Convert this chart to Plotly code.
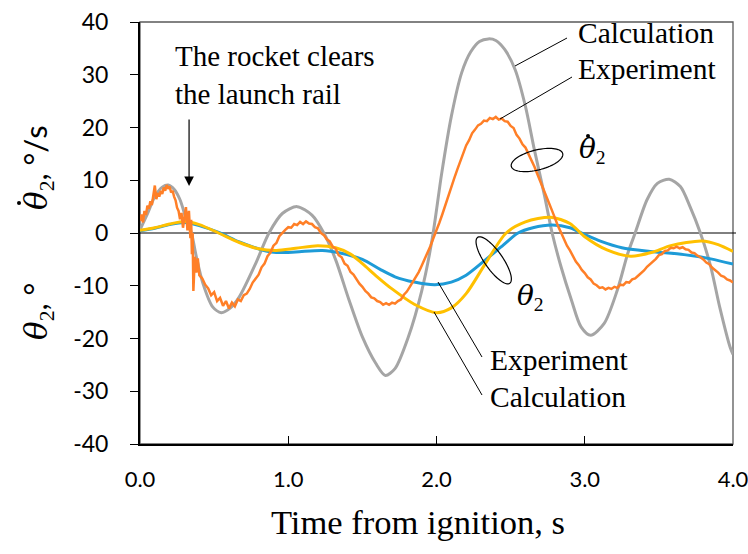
import numpy as np
import plotly.graph_objects as go

# ---------------- data ----------------
X_TICKS = [0, 1, 2, 3, 4]
X_TICK_LABELS = ["0.0", "1.0", "2.0", "3.0", "4.0"]
Y_TICKS = [-40, -30, -20, -10, 0, 10, 20, 30, 40]
Y_TICK_LABELS = ["-40", "-30", "-20", "-10", "0", "10", "20", "30", "40"]

# Calculation, angular rate (deg/s)
T_CALC_RATE = [0.00, 0.05, 0.10, 0.15, 0.19, 0.23, 0.27, 0.313, 0.347, 0.38, 0.425, 0.49,
               0.548, 0.61, 0.67, 0.78, 0.87, 0.96, 1.06, 1.16, 1.24, 1.32, 1.41, 1.50,
               1.59, 1.655, 1.72, 1.81, 1.90, 1.97, 2.035, 2.10, 2.17, 2.23, 2.29, 2.35,
               2.40, 2.46, 2.53, 2.60, 2.66, 2.73, 2.78, 2.84, 2.91, 2.975, 3.04, 3.13,
               3.22, 3.29, 3.34, 3.42, 3.49, 3.57, 3.645, 3.71, 3.78, 3.85, 3.91, 3.98, 4.00]
CALC_RATE = [0.6, 3.6, 6.9, 8.7, 9.1, 8.3, 6.3, 2.5, 0.0, -4.5, -9.6, -14.0,
             -15.1, -14.2, -12.1, -5.8, 0.0, 3.7, 5.0, 3.4, 0.0, -5.1, -12.7, -19.7,
             -24.7, -27.0, -25.7, -19.7, -11.0, -1.3, 11.3, 22.1, 30.4, 34.3, 36.3, 36.8,
             36.5, 34.8, 31.0, 24.0, 15.8, 6.9, 0.0, -6.4, -12.7, -17.8, -19.4, -17.2,
             -10.8, -3.9, 0.0, 6.3, 9.4, 10.2, 8.8, 5.0, 0.0, -6.4, -14.0, -21.6, -23.0]

# Experiment, angular rate (deg/s)
T_EXP_RATE = [0.00, 0.01, 0.02, 0.03, 0.04, 0.05, 0.06, 0.07, 0.08, 0.09, 0.10, 0.11, 0.12,
              0.13, 0.14, 0.15, 0.16, 0.17, 0.18, 0.19, 0.20, 0.21, 0.22, 0.23, 0.24, 0.25,
              0.26, 0.27, 0.28, 0.29, 0.30, 0.31, 0.32, 0.33, 0.34, 0.345, 0.35, 0.355,
              0.36, 0.365, 0.37, 0.38, 0.39, 0.40,
              0.42, 0.44, 0.46, 0.48, 0.50, 0.52, 0.54, 0.56, 0.58, 0.60, 0.62, 0.64, 0.66,
              0.68, 0.70, 0.72, 0.74, 0.76, 0.78, 0.80, 0.82, 0.84, 0.86, 0.88, 0.90, 0.92,
              0.94, 0.96, 0.98, 1.00, 1.02, 1.04, 1.06, 1.08, 1.10, 1.12, 1.14, 1.16, 1.18,
              1.20, 1.22, 1.24, 1.26, 1.28, 1.30, 1.32, 1.34, 1.36, 1.38, 1.40, 1.42, 1.44,
              1.46, 1.48, 1.50, 1.52, 1.54, 1.56, 1.58, 1.60, 1.62, 1.64, 1.66, 1.68, 1.70,
              1.72, 1.74, 1.76, 1.78, 1.80, 1.82, 1.84, 1.86, 1.88, 1.90, 1.92, 1.94, 1.96,
              1.98, 2.00, 2.02, 2.04, 2.06, 2.08, 2.10, 2.12, 2.14, 2.16, 2.18, 2.20, 2.22,
              2.24, 2.26, 2.28, 2.30, 2.32, 2.34, 2.36, 2.38, 2.40, 2.42, 2.44, 2.46, 2.48,
              2.50, 2.52, 2.54, 2.56, 2.58, 2.60, 2.62, 2.64, 2.66, 2.68, 2.70, 2.72, 2.74,
              2.76, 2.78, 2.80, 2.82, 2.84, 2.86, 2.88, 2.90, 2.92, 2.94, 2.96, 2.98, 3.00,
              3.02, 3.04, 3.06, 3.08, 3.10, 3.12, 3.14, 3.16, 3.18, 3.20, 3.22, 3.24, 3.26,
              3.28, 3.30, 3.32, 3.34, 3.36, 3.38, 3.40, 3.42, 3.44, 3.46, 3.48, 3.50, 3.52,
              3.54, 3.56, 3.58, 3.60, 3.62, 3.64, 3.66, 3.68, 3.70, 3.72, 3.74, 3.76, 3.78,
              3.80, 3.82, 3.84, 3.86, 3.88, 3.90, 3.92, 3.94, 3.96, 3.98, 4.00]
EXP_RATE = [2.3, 3.5, 2.0, 4.2, 3.4, 5.2, 4.6, 6.0, 5.3, 7.0, 9.0, 6.4, 7.6,
            6.9, 8.0, 7.4, 8.6, 8.0, 9.1, 8.4, 8.8, 7.7, 8.0, 6.9, 6.2, 4.8,
            4.2, 2.6, 3.8, 1.0, 3.0, 4.9, 0.5, 4.2, -1.0, 2.5, -4.0, 0.0,
            -11.0, -7.0, -4.5, -7.5, -4.8, -8.0,
            -8.6, -9.8, -10.5, -11.8, -11.2, -12.9, -12.3, -13.8, -12.9, -14.3, -13.2, -13.9, -12.6,
            -12.9, -11.8, -11.5, -10.6, -9.4, -8.6, -7.9, -6.5, -5.8, -4.4, -3.7, -2.4, -1.9,
            -0.6, 0.1, 0.6, 1.1, 1.0, 1.7, 1.5, 2.1, 1.7, 2.2, 1.8, 1.7, 1.1,
            0.9, 0.0, -0.4, -1.2, -1.6, -2.6, -3.0, -4.2, -4.6, -5.8, -6.2, -7.4, -7.9,
            -8.8, -9.6, -10.2, -11.0, -11.5, -12.2, -12.4, -12.9, -13.1, -13.6, -13.3, -13.6, -13.2,
            -13.4, -12.9, -12.6, -11.7, -11.1, -10.2, -9.3, -8.5, -7.4, -6.2, -5.0, -3.6, -2.4,
            -0.9, 0.4, 2.0, 3.6, 5.4, 7.0, 8.9, 10.4, 12.0, 13.6, 15.0, 16.6, 17.6,
            18.9, 19.6, 20.4, 20.7, 21.3, 21.2, 21.8, 21.6, 22.0, 21.5, 21.7, 21.2, 21.1,
            20.3, 19.9, 18.6, 17.9, 16.8, 16.2, 15.0, 13.9, 12.6, 11.2, 9.7, 8.6, 7.0,
            5.6, 4.2, 2.6, 1.3, 0.1, -1.2, -2.4, -3.3, -4.3, -5.4, -6.1, -7.0, -7.6,
            -8.4, -8.8, -9.6, -9.9, -10.4, -10.3, -10.7, -10.4, -10.6, -10.2, -10.4, -9.8, -9.9,
            -9.3, -9.4, -8.8, -8.6, -8.1, -7.6, -7.1, -6.4, -5.9, -5.3, -4.9, -4.2, -4.0,
            -3.4, -3.3, -2.8, -2.9, -2.6, -2.9, -2.7, -3.1, -3.2, -3.7, -3.8, -4.3, -4.6,
            -5.0, -5.6, -5.9, -6.6, -7.0, -7.5, -8.1, -8.3, -8.8, -9.0, -9.4]

# Calculation, angle (deg)
T_CALC_ANGLE = [0.00, 0.10, 0.20, 0.30, 0.40, 0.53, 0.67, 0.80, 0.92, 1.05, 1.20, 1.32,
                1.42, 1.50, 1.60, 1.70, 1.85, 2.00, 2.10, 2.20, 2.33, 2.47, 2.60, 2.77,
                2.90, 3.00, 3.15, 3.31, 3.45, 3.58, 3.79, 3.90, 4.00]
CALC_ANGLE = [0.5, 1.0, 1.7, 2.2, 1.6, 0.0, -1.8, -3.0, -3.3, -2.9, -2.4, -2.8,
              -4.0, -5.8, -8.3, -10.6, -13.5, -15.1, -14.2, -11.5, -5.8, 0.0, 2.1, 3.0,
              1.8, -0.7, -3.2, -4.4, -3.7, -2.4, -1.5, -2.2, -3.5]

# Experiment, angle (deg)
T_EXP_ANGLE = [0.00, 0.10, 0.20, 0.30, 0.40, 0.54, 0.67, 0.85, 0.92, 1.05, 1.23, 1.35,
               1.50, 1.62, 1.72, 1.85, 1.99, 2.10, 2.20, 2.33, 2.45, 2.55, 2.65, 2.78,
               2.90, 3.00, 3.11, 3.25, 3.44, 3.67, 3.85, 4.00]
EXP_ANGLE = [0.4, 0.9, 1.6, 2.0, 1.4, 0.0, -1.7, -3.4, -3.7, -3.6, -3.3, -3.8,
             -5.0, -6.9, -8.3, -9.3, -9.8, -9.3, -8.0, -5.1, -2.3, 0.0, 1.0, 1.5,
             1.0, -0.3, -1.6, -2.8, -3.5, -4.1, -4.9, -5.9]

# ---------------- styling helpers ----------------
W, H = 748, 554
L, R, T, B = 140, 733, 22, 444
SERIF = "Liberation Serif"
MATH = "DejaVu Serif"
SANS = "Lato"


def px(x):
    return (x - L) / (R - L)


def py(y):
    return (B - y) / (B - T)


def ellipse_path(cx, cy, a, b, ang_deg, n=72):
    th = np.linspace(0, 2 * np.pi, n)
    ang = np.radians(ang_deg)
    xs = cx + a * np.cos(th) * np.cos(ang) - b * np.sin(th) * np.sin(ang)
    ys = cy + a * np.cos(th) * np.sin(ang) + b * np.sin(th) * np.cos(ang)
    pts = [f"{px(x):.5f},{py(y):.5f}" for x, y in zip(xs, ys)]
    return "M " + " L ".join(pts) + " Z"


def dot(cx, cy, r=2.0):
    return dict(type="circle", xref="paper", yref="paper",
                x0=px(cx - r), x1=px(cx + r), y0=py(cy + r), y1=py(cy - r),
                fillcolor="black", line=dict(width=0))


fig = go.Figure()
fig.add_trace(go.Scatter(x=T_CALC_RATE, y=CALC_RATE, mode="lines",
                         line=dict(color="#A5A5A5", width=3, shape="spline", smoothing=0.8),
                         hoverinfo="skip", showlegend=False))
fig.add_trace(go.Scatter(x=T_EXP_ANGLE, y=EXP_ANGLE, mode="lines",
                         line=dict(color="#1E9BD7", width=3, shape="spline", smoothing=0.8),
                         hoverinfo="skip", showlegend=False))
fig.add_trace(go.Scatter(x=T_CALC_ANGLE, y=CALC_ANGLE, mode="lines",
                         line=dict(color="#FFC000", width=3, shape="spline", smoothing=0.8),
                         hoverinfo="skip", showlegend=False))
fig.add_trace(go.Scatter(x=T_EXP_RATE, y=EXP_RATE, mode="lines",
                         line=dict(color="#FF7F27", width=2.5),
                         hoverinfo="skip", showlegend=False))

shapes = []
shapes.append(dict(type="rect", xref="paper", yref="paper", x0=0, y0=0, x1=1, y1=1,
                   line=dict(color="#595959", width=1.3), layer="below"))
shapes.append(dict(type="line", xref="paper", yref="y", x0=0, x1=px(736), y0=0, y1=0,
                   line=dict(color="black", width=1), layer="below"))
for (x0, y0, x1, y1) in [(515, 66, 567, 38), (500, 119, 572, 77),
                         (438, 282, 482, 357), (434, 312, 482, 395)]:
    shapes.append(dict(type="line", xref="paper", yref="paper",
                       x0=px(x0), y0=py(y0), x1=px(x1), y1=py(y1),
                       line=dict(color="black", width=1)))
shapes.append(dict(type="path", xref="paper", yref="paper",
                   path=ellipse_path(537, 160, 26.5, 10, -14), line=dict(color="black", width=1.2)))
shapes.append(dict(type="path", xref="paper", yref="paper",
                   path=ellipse_path(493.7, 260.3, 28, 9, 55), line=dict(color="black", width=1.2)))
# dots over theta (time derivative)
shapes.append(dot(588, 136))
shapes.append(dot(19, 203))

THETA = f"<span style=\"font-family:{MATH}\"><i>\u03b8</i></span>"

ann = []
ann.append(dict(text="The rocket clears<br>the launch rail", xref="paper", yref="paper",
                x=px(173), y=py(75), xanchor="left", yanchor="middle", align="left",
                showarrow=False, font=dict(family=SERIF, size=29, color="black")))
ann.append(dict(text="", x=0.331, y=8.9, xref="x", yref="y", ax=0.331, ay=21.8,
                axref="x", ayref="y", showarrow=True, arrowhead=2, arrowsize=1.6,
                arrowwidth=1.2, arrowcolor="black"))
for txt, xx, yy in [("Calculation", 576, 33), ("Experiment", 576, 69),
                    ("Experiment", 488, 360), ("Calculation", 488, 397)]:
    ann.append(dict(text=txt, xref="paper", yref="paper", x=px(xx), y=py(yy),
                    xanchor="left", yanchor="middle", showarrow=False,
                    font=dict(family=SERIF, size=29.5, color="black")))
ann.append(dict(text=THETA + "<sub>2</sub>", xref="paper", yref="paper",
                x=px(577), y=py(150), xanchor="left", yanchor="middle", showarrow=False,
                font=dict(family=SERIF, size=28, color="black")))
ann.append(dict(text=THETA + "<sub>2</sub>", xref="paper", yref="paper",
                x=px(515), y=py(297), xanchor="left", yanchor="middle", showarrow=False,
                font=dict(family=SERIF, size=28, color="black")))
ann.append(dict(text=THETA + f"<sub>2</sub><span style=\"font-family:{SANS}\">, \u00b0/s</span>",
                xref="paper", yref="paper", x=px(37), y=py(168), textangle=-90,
                xanchor="center", yanchor="middle", showarrow=False,
                font=dict(family=SERIF, size=31, color="black")))
ann.append(dict(text=THETA + f"<sub>2</sub><span style=\"font-family:{SANS}\">, \u00b0</span>",
                xref="paper", yref="paper", x=px(37), y=py(312), textangle=-90,
                xanchor="center", yanchor="middle", showarrow=False,
                font=dict(family=SERIF, size=31, color="black")))
ann.append(dict(text="Time from ignition, s", xref="paper", yref="paper",
                x=px(418), y=py(522), xanchor="center", yanchor="middle", showarrow=False,
                font=dict(family=SERIF, size=34.5, color="black")))

fig.update_layout(
    width=W, height=H,
    margin=dict(l=L, r=W - R, t=T, b=H - B, pad=0, autoexpand=False),
    paper_bgcolor="white", plot_bgcolor="white",
    shapes=shapes, annotations=ann,
    xaxis=dict(range=[0, 4], tickvals=X_TICKS, ticktext=X_TICK_LABELS,
               ticks="inside", ticklen=8, tickwidth=1.3, tickcolor="black",
               showline=True, linecolor="black", linewidth=2, automargin=False,
               showgrid=False, zeroline=False, ticklabelstandoff=15,
               ticklabeloverflow="allow",
               tickfont=dict(family=SANS, size=22, color="black")),
    yaxis=dict(range=[-40, 40], tickvals=Y_TICKS, ticktext=Y_TICK_LABELS,
               ticks="outside", ticklen=8, tickwidth=1.3, tickcolor="black",
               showline=True, linecolor="black", linewidth=2, automargin=False,
               showgrid=False, zeroline=False, ticklabelstandoff=17,
               tickfont=dict(family=SANS, size=23, color="black")),
)

fig.write_html("out.html")
